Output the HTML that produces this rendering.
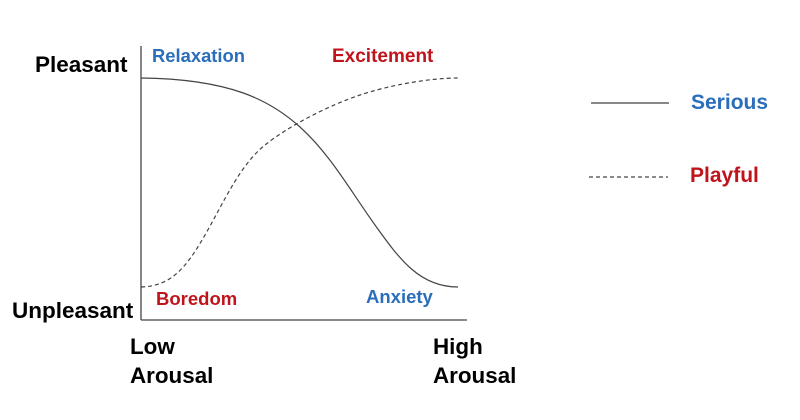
<!DOCTYPE html>
<html><head><style>body{margin:0;background:#fff}svg{display:block}</style></head><body>
<svg width="800" height="420" xmlns="http://www.w3.org/2000/svg" font-family="Liberation Sans, Arial, sans-serif" font-weight="bold">
<line x1="141" y1="46" x2="141" y2="320" stroke="#444" stroke-width="1.3"/>
<line x1="141" y1="320" x2="467" y2="320" stroke="#444" stroke-width="1.3"/>
<path d="M141,78 C230,79 270,100 300,127 S350,190 375,225 S420,287 458,287" fill="none" stroke="#444" stroke-width="1.2"/>
<path d="M141,287 C170,286 185,270 205,235 S240,165 265,145 S330,105 360,95 S430,78 458,78" fill="none" stroke="#444" stroke-width="1.2" stroke-dasharray="4,3"/>
<text x="35" y="72" font-size="22.5" fill="#000">Pleasant</text>
<text x="12" y="318" font-size="22.5" fill="#000">Unpleasant</text>
<text x="152" y="62" font-size="18.4" fill="#2a6ebb">Relaxation</text>
<text x="332" y="62" font-size="19" fill="#c0141c">Excitement</text>
<text x="156" y="305" font-size="18.5" fill="#c0141c">Boredom</text>
<text x="366" y="303" font-size="18.5" fill="#2a6ebb">Anxiety</text>
<text x="130" y="354" font-size="22.4" fill="#000">Low</text>
<text x="130" y="383" font-size="22.4" fill="#000">Arousal</text>
<text x="433" y="354" font-size="22.4" fill="#000">High</text>
<text x="433" y="383" font-size="22.4" fill="#000">Arousal</text>
<line x1="591" y1="103" x2="669" y2="103" stroke="#888" stroke-width="2"/>
<text x="691" y="109" font-size="21" fill="#2a6ebb">Serious</text>
<line x1="589" y1="177" x2="668" y2="177" stroke="#444" stroke-width="1.2" stroke-dasharray="4,3"/>
<text x="690" y="182" font-size="21" fill="#c0141c">Playful</text>
</svg>
</body></html>
